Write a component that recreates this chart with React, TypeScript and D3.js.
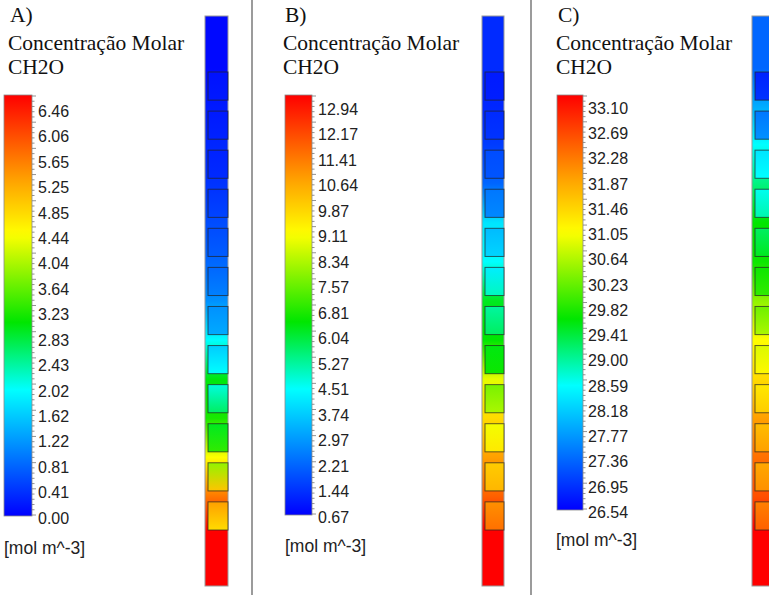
import React from "react";
import * as d3 from "d3";

// ---------- data ----------
const panelLetters = ["A)", "B)", "C)"];
const titleLine1 = "Concentração Molar";
const titleLine2 = "CH2O";
const unitLabel = "[mol m^-3]";

const labelsA = ["6.46", "6.06", "5.65", "5.25", "4.85", "4.44", "4.04", "3.64", "3.23", "2.83", "2.43", "2.02", "1.62", "1.22", "0.81", "0.41", "0.00"];
const labelsB = ["12.94", "12.17", "11.41", "10.64", "9.87", "9.11", "8.34", "7.57", "6.81", "6.04", "5.27", "4.51", "3.74", "2.97", "2.21", "1.44", "0.67"];
const labelsC = ["33.10", "32.69", "32.28", "31.87", "31.46", "31.05", "30.64", "30.23", "29.82", "29.41", "29.00", "28.59", "28.18", "27.77", "27.36", "26.95", "26.54"];

// concentration in the outer flow: top block, 11 gaps between cells, bottom block
const gapA = [0.06, 0.19, 0.29, 0.39, 0.58, 0.78, 1.1, 1.94, 2.91, 3.1, 4.33, 5.49, 6.46];
const gapB = [1.28, 1.22, 1.53, 2.14, 3.98, 4.35, 6.07, 6.31, 8.65, 9.5, 10.49, 11.47, 12.94];
const gapC = [27.33, 27.85, 28.51, 29.03, 29.56, 29.62, 30.34, 30.94, 31.26, 31.79, 32.18, 32.44, 33.1];

// concentration in the 12 cells (top edge / bottom edge)
const cellTopA = [0.13, 0.19, 0.26, 0.39, 0.58, 0.78, 1.1, 1.55, 2.07, 2.84, 3.75, 5.17];
const cellBotA = [0.19, 0.26, 0.32, 0.52, 0.71, 0.97, 1.29, 1.94, 2.58, 3.23, 4.85, 4.65];
const cellTopB = [1.04, 1.28, 1.77, 2.39, 3.37, 4.11, 5.09, 6.19, 7.54, 8.77, 9.75, 10.73];
const cellBotB = [1.1, 1.41, 1.9, 2.63, 3.74, 4.84, 5.58, 6.44, 8.03, 9.26, 10.12, 11.22];
const cellTopC = [26.8, 27.46, 28.31, 28.57, 29.16, 29.62, 30.15, 30.74, 31.13, 31.53, 31.72, 32.05];
const cellBotC = [26.93, 27.66, 28.51, 28.84, 29.43, 29.82, 30.48, 31.0, 31.39, 31.79, 31.92, 32.31];

const colorStops = [0, 0.3, 0.46, 0.67, 0.8, 1];
const colorRange = ["#0000ff", "#00ffff", "#00e600", "#ffff00", "#ffa000", "#ff0000"];

// ---------- layout ----------
const W = 769;
const H = 595;
const layouts = [
  { textX: 8, letterX: 10, barX: 4, barW: 28, barTop: 95, barBottom: 516, labelX: 38, labelTop: 111, labelBottom: 518, unitX: 4, unitY: 548, colX: 205, colW: 23 },
  { textX: 283, letterX: 285, barX: 285, barW: 27, barTop: 95, barBottom: 515, labelX: 318, labelTop: 109, labelBottom: 517, unitX: 285, unitY: 546, colX: 482, colW: 22 },
  { textX: 556, letterX: 558, barX: 557, barW: 26, barTop: 95, barBottom: 510, labelX: 588, labelTop: 108, labelBottom: 512, unitX: 556, unitY: 540, colX: 752, colW: 23 },
];
const dividers = [252, 531];
const COL_TOP = 16;
const COL_BOTTOM = 586;
const CELLS_TOP = 72;
const CELLS_BOTTOM = 530;

const colormap = d3
  .scaleLinear<string>()
  .domain(colorStops)
  .range(colorRange)
  .interpolate(d3.interpolateRgb)
  .clamp(true);

const panels = [
  { labels: labelsA, gap: gapA, cellTop: cellTopA, cellBot: cellBotA },
  { labels: labelsB, gap: gapB, cellTop: cellTopB, cellBot: cellBotB },
  { labels: labelsC, gap: gapC, cellTop: cellTopC, cellBot: cellBotC },
];

const serif = "'Liberation Serif', 'Times New Roman', serif";
const sans = "'Liberation Sans', Arial, sans-serif";

function Panel({ idx }: { idx: number }) {
  const L = layouts[idx];
  const P = panels[idx];
  const nums = P.labels.map(Number);
  const vmin = d3.min(nums)!;
  const vmax = d3.max(nums)!;
  const tScale = d3.scaleLinear().domain([vmin, vmax]).range([0, 1]).clamp(true);
  const colorOf = (v: number) => colormap(tScale(v));

  const labelY = d3.scaleLinear().domain([0, P.labels.length - 1]).range([L.labelTop, L.labelBottom]);
  const nMinor = (P.labels.length - 1) * 5;
  const tickY = d3.scaleLinear().domain([0, nMinor]).range([L.barTop + 1, L.barBottom - 1]);

  const barStops = d3.range(0, 1.0001, 0.02);

  const cellBand = d3
    .scaleBand<number>()
    .domain(d3.range(P.cellTop.length))
    .range([CELLS_TOP, CELLS_BOTTOM])
    .paddingInner(0.28)
    .paddingOuter(0);
  const colY = d3.scaleLinear().domain([COL_TOP, COL_BOTTOM]).range([0, 1]);

  const bgStops: { off: number; v: number }[] = [];
  const nG = P.gap.length;
  P.gap.forEach((v, i) => {
    if (i === 0) {
      bgStops.push({ off: colY(COL_TOP), v });
      bgStops.push({ off: colY(CELLS_TOP - 4), v });
    } else if (i === nG - 1) {
      bgStops.push({ off: colY(CELLS_BOTTOM + 2), v });
      bgStops.push({ off: colY(COL_BOTTOM), v });
    } else {
      const y0 = cellBand(i - 1)! + cellBand.bandwidth();
      const y1 = cellBand(i)!;
      bgStops.push({ off: colY((y0 + y1) / 2), v });
    }
  });

  const id = `p${idx}`;
  return (
    <g>
      <defs>
        <linearGradient id={`${id}bar`} x1="0" y1="1" x2="0" y2="0">
          {barStops.map((t, i) => (
            <stop key={i} offset={t} stopColor={colormap(t)} />
          ))}
        </linearGradient>
        <linearGradient id={`${id}col`} x1="0" y1={COL_TOP} x2="0" y2={COL_BOTTOM} gradientUnits="userSpaceOnUse">
          {bgStops.map((s, i) => (
            <stop key={i} offset={s.off} stopColor={colorOf(s.v)} />
          ))}
        </linearGradient>
        {P.cellTop.map((v, i) => (
          <linearGradient key={i} id={`${id}cell${i}`} x1="0" y1="0" x2="0" y2="1">
            <stop offset="0" stopColor={colorOf(v)} />
            <stop offset="1" stopColor={colorOf(P.cellBot[i])} />
          </linearGradient>
        ))}
      </defs>

      <text x={L.letterX} y={22} fontFamily={serif} fontSize={21.5} fill="#111">
        {panelLetters[idx]}
      </text>
      <text x={L.textX} y={50} fontFamily={serif} fontSize={21.5} fill="#111">
        {titleLine1}
      </text>
      <text x={L.textX} y={74} fontFamily={serif} fontSize={21.5} fill="#111">
        {titleLine2}
      </text>

      <rect x={L.barX} y={L.barTop} width={L.barW} height={L.barBottom - L.barTop} fill={`url(#${id}bar)`} stroke="#8a8a8a" strokeWidth={0.8} />
      {d3.range(nMinor + 1).map((k) => (
        <line
          key={k}
          x1={L.barX + L.barW}
          x2={L.barX + L.barW + (k % 5 === 0 ? 4 : 2.5)}
          y1={tickY(k)}
          y2={tickY(k)}
          stroke="#777"
          strokeWidth={0.8}
        />
      ))}
      {P.labels.map((lab, i) => (
        <text key={lab} x={L.labelX} y={labelY(i)} dy="0.36em" fontFamily={sans} fontSize={16} fill="#222">
          {lab}
        </text>
      ))}
      <text x={L.unitX} y={L.unitY} dy="0.36em" fontFamily={sans} fontSize={17.5} fill="#222">
        {unitLabel}
      </text>

      <rect x={L.colX} y={COL_TOP} width={L.colW} height={COL_BOTTOM - COL_TOP} fill={`url(#${id}col)`} stroke="#9a9a9a" strokeWidth={1} />
      {P.cellTop.map((_, i) => (
        <rect
          key={i}
          x={L.colX + 3}
          y={cellBand(i)!}
          width={L.colW - 3}
          height={cellBand.bandwidth()}
          fill={`url(#${id}cell${i})`}
          stroke="#222"
          strokeOpacity={0.7}
          strokeWidth={1}
        />
      ))}
    </g>
  );
}

export default function App() {
  return (
    <svg width={W} height={H} viewBox={`0 0 ${W} ${H}`} style={{ position: "absolute", left: 0, top: 0, background: "#fff" }}>
      <rect x={0} y={0} width={W} height={H} fill="#fff" />
      {dividers.map((x) => (
        <line key={x} x1={x} x2={x} y1={0} y2={H} stroke="#7a7a7a" strokeWidth={1.5} />
      ))}
      {layouts.map((_, i) => (
        <Panel key={i} idx={i} />
      ))}
    </svg>
  );
}
